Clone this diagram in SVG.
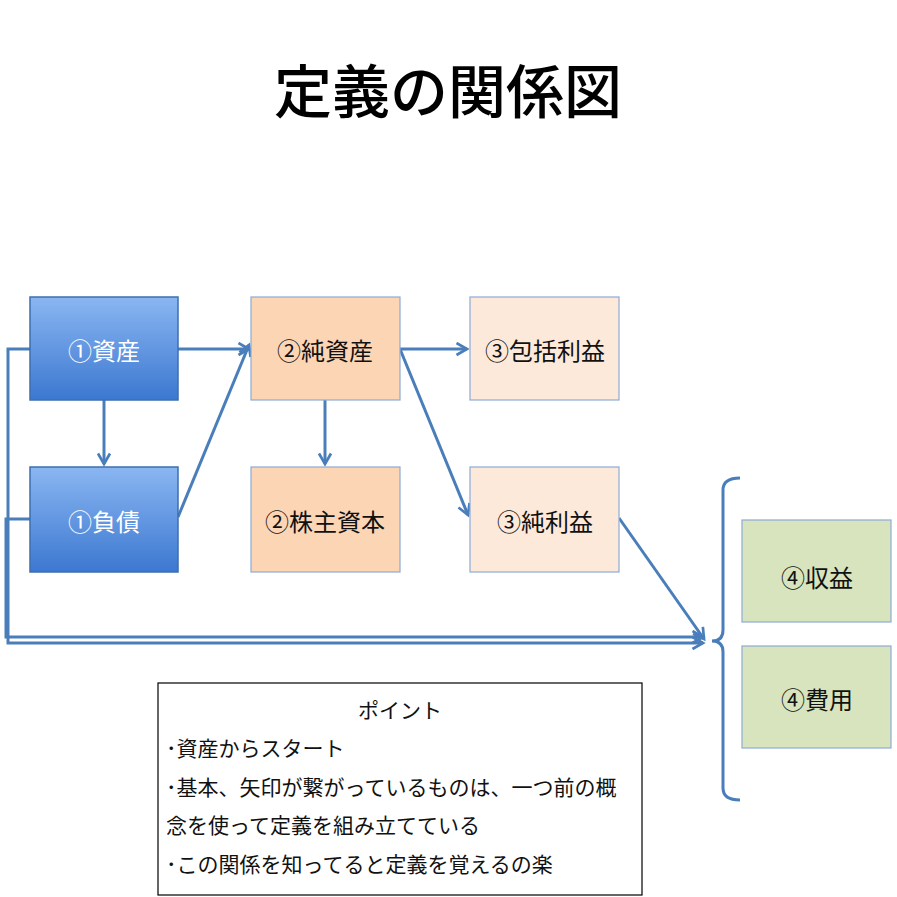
<svg xmlns="http://www.w3.org/2000/svg" width="897" height="897" viewBox="0 0 897 897">
<style>
text{font-family:"Noto Sans CJK JP","Liberation Sans",sans-serif}
.lbl{font-size:24px;text-anchor:middle;dominant-baseline:central}
.w{fill:#fff}.k{fill:#111}
.b{stroke:#3d6fb0;stroke-width:1.5}
.c{fill:none;stroke:#4a7ebb;stroke-width:3}
.t{font-size:21px;fill:#111}
</style>
<defs>
<linearGradient id="gb" x1="0" y1="0" x2="0" y2="1"><stop offset="0" stop-color="#8ab6f2"/><stop offset="1" stop-color="#3c78d0"/></linearGradient>
<marker id="a" viewBox="0 0 10 10" refX="8" refY="5" markerWidth="5" markerHeight="5" orient="auto"><path d="M1 1L8 5L1 9" fill="none" stroke="#4a7ebb" stroke-width="1.8"/></marker>
</defs>
<rect width="897" height="897" fill="#fff"/>
<text x="448" y="88" text-anchor="middle" dominant-baseline="central" font-size="58" fill="#000" style="font-weight:500">定義の関係図</text>
<g id="connectors">
<path class="c" d="M30 349H8V643H703" marker-end="url(#a)"/>
<path class="c" d="M30 519H6V637H703" marker-end="url(#a)"/>
<path class="c" d="M178 349H249" marker-end="url(#a)"/>
<path class="c" d="M104 400V464" marker-end="url(#a)"/>
<path class="c" d="M178 517L249 345" marker-end="url(#a)"/>
<path class="c" d="M400 349H467" marker-end="url(#a)"/>
<path class="c" d="M325 400V464" marker-end="url(#a)"/>
<path class="c" d="M400 349L468 515" marker-end="url(#a)"/>
<path class="c" d="M619 518L704 639" marker-end="url(#a)"/>
<path class="c" d="M740 478Q723 478 723 490V630Q723 641 712 641Q723 641 723 652V788Q723 800 740 800"/>
</g>
<g id="n1"><rect x="30" y="297" width="148" height="103" fill="url(#gb)" class="b"/><text class="lbl w" x="104" y="349">①資産</text></g>
<g id="n2"><rect x="30" y="467" width="148" height="105" fill="url(#gb)" class="b"/><text class="lbl w" x="104" y="520">①負債</text></g>
<g id="n3"><rect x="251" y="297" width="149" height="103" fill="#fcd5b5" stroke="#8eaad6" stroke-width="1.2"/><text class="lbl k" x="325" y="349">②純資産</text></g>
<g id="n4"><rect x="251" y="467" width="149" height="105" fill="#fcd5b5" stroke="#8eaad6" stroke-width="1.2"/><text class="lbl k" x="325" y="520">②株主資本</text></g>
<g id="n5"><rect x="470" y="297" width="149" height="103" fill="#fde9d9" stroke="#8eaad6" stroke-width="1.2"/><text class="lbl k" x="545" y="349">③包括利益</text></g>
<g id="n6"><rect x="470" y="467" width="149" height="105" fill="#fde9d9" stroke="#8eaad6" stroke-width="1.2"/><text class="lbl k" x="545" y="520">③純利益</text></g>
<g id="n7"><rect x="742" y="520" width="149" height="102" fill="#d7e4bd" stroke="#8eaad6" stroke-width="1.2"/><text class="lbl k" x="817" y="576">④収益</text></g>
<g id="n8"><rect x="742" y="646" width="149" height="102" fill="#d7e4bd" stroke="#8eaad6" stroke-width="1.2"/><text class="lbl k" x="817" y="698">④費用</text></g>
<g id="note">
<rect x="158" y="683" width="484" height="212" fill="#fff" stroke="#000" stroke-width="1.2"/>
<text class="t" x="400" y="718" text-anchor="middle">ポイント</text>
<text class="t" x="166" y="756">･資産からスタート</text>
<text class="t" x="166" y="795">･基本、矢印が繋がっているものは、一つ前の概</text>
<text class="t" x="166" y="833">念を使って定義を組み立てている</text>
<text class="t" x="166" y="872">･この関係を知ってると定義を覚えるの楽</text>
</g>
</svg>
